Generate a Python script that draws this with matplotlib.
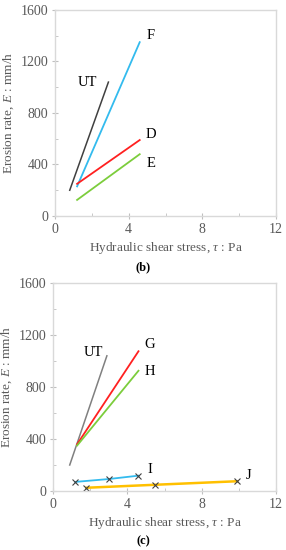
import matplotlib
matplotlib.use("Agg")
import matplotlib.pyplot as plt
from matplotlib.ticker import MultipleLocator

plt.rcParams['font.family'] = 'serif'
plt.rcParams['font.serif'] = ['Liberation Serif', 'DejaVu Serif']
plt.rcParams['mathtext.fontset'] = 'custom'
plt.rcParams['mathtext.rm'] = 'Liberation Serif'
plt.rcParams['mathtext.it'] = 'Liberation Serif:italic'

# Panel (b)
b_UT_x = [0.8, 2.9]; b_UT_y = [200, 1040]
b_F_x = [1.2, 4.6]; b_F_y = [230, 1350]
b_D_x = [1.2, 4.6]; b_D_y = [250, 590]
b_E_x = [1.2, 4.6]; b_E_y = [125, 480]

# Panel (c)
c_UT_x = [0.9, 2.9]; c_UT_y = [200, 1040]
c_G_x = [1.3, 4.6]; c_G_y = [360, 1075]
c_H_x = [1.3, 4.6]; c_H_y = [350, 925]
c_I_x = [1.2, 3.0, 4.6]; c_I_y = [70, 92, 118]
c_J_x = [1.8, 5.5, 9.9]; c_J_y = [25, 48, 75]

xticks = [0, 4, 8, 12]
yticks = [0, 400, 800, 1200, 1600]

W, H = 286, 550
fig = plt.figure(figsize=(W/100, H/100), dpi=100)

def style(ax):
    ax.set_xlim(0, 12); ax.set_ylim(0, 1600)
    ax.set_xticks(xticks); ax.set_yticks(yticks)
    ax.xaxis.set_minor_locator(MultipleLocator(2))
    ax.yaxis.set_minor_locator(MultipleLocator(200))
    for s in ax.spines.values():
        s.set_color('#d9d9d9'); s.set_linewidth(1.0)
    ax.tick_params(which='major', direction='inout', length=5, color='#bfbfbf',
                   labelsize=10, labelcolor='#595959', pad=2.5)
    ax.tick_params(which='minor', direction='in', length=2.5, color='#bfbfbf')
    for lab in ax.get_xticklabels() + ax.get_yticklabels():
        lab.set_fontfamily('Liberation Serif')
    ax.set_xlabel(r'Hydraulic shear stress, $\tau$ : Pa', fontsize=9.5, color='#595959', labelpad=3)
    ax.set_ylabel(r'Erosion rate, $E$ : mm/h', fontsize=9.5, color='#595959', labelpad=3)

ax1 = fig.add_axes([55/W, 1-216/H, 221/W, 206/H])
style(ax1)
ax1.plot(b_UT_x, b_UT_y, color='#404040', lw=1.1)
ax1.plot(b_F_x, b_F_y, color='#33bbee', lw=1.3)
ax1.plot(b_D_x, b_D_y, color='#ff2020', lw=1.3)
ax1.plot(b_E_x, b_E_y, color='#7ccd3c', lw=1.3)
tk = dict(fontsize=10.5, color='black', ha='center', va='center')
ax1.text(1.75, 1040, 'UT', **tk)
ax1.text(5.2, 1400, 'F', **tk)
ax1.text(5.2, 630, 'D', **tk)
ax1.text(5.2, 410, 'E', **tk)
fig.text(143/W, 1-267/H, '(b)', fontsize=9, fontweight='bold', ha='center', va='center')

ax2 = fig.add_axes([53/W, 1-491/H, 223/W, 208/H])
style(ax2)
ax2.plot(c_UT_x, c_UT_y, color='#808080', lw=1.1)
ax2.plot(c_G_x, c_G_y, color='#ff2020', lw=1.3)
ax2.plot(c_H_x, c_H_y, color='#7ccd3c', lw=1.3)
ax2.plot(c_I_x, c_I_y, color='#33bbee', lw=1.3, marker='x', ms=4,
         mec='#404040', mew=0.8)
ax2.plot(c_J_x, c_J_y, color='#ffc000', lw=1.8, marker='x', ms=4,
         mec='#404040', mew=0.8)
ax2.text(2.15, 1062, 'UT', **tk)
ax2.text(5.2, 1130, 'G', **tk)
ax2.text(5.2, 923, 'H', **tk)
ax2.text(5.2, 169, 'I', **tk)
ax2.text(10.5, 123, 'J', **tk)
fig.text(143/W, 1-541/H, '(c)', fontsize=9, fontweight='bold', ha='center', va='center')

fig.savefig('out.png', dpi=100)
